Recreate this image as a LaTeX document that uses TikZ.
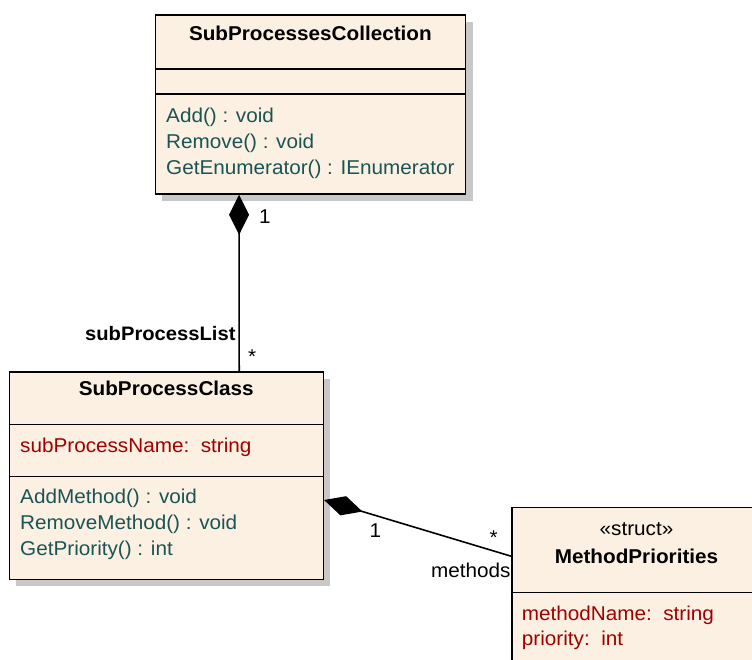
\documentclass[tikz,border=0pt]{standalone}
\usepackage{fontspec}
\setmainfont{Liberation Sans}[FakeStretch=1.035]
\usetikzlibrary{arrows.meta,shadows}
\definecolor{boxfill}{HTML}{FBF0E2}
\definecolor{shadowgray}{HTML}{C8C8C8}
\definecolor{opcolor}{HTML}{1A5454}
\definecolor{attrcolor}{HTML}{A00000}
\tikzset{
  classbox/.style={draw=black, line width=1.6pt, fill=boxfill, inner sep=0pt,
    drop shadow={shadow xshift=7pt, shadow yshift=-7pt, fill=shadowgray, opacity=1}},
  sepline/.style={draw=black, line width=1.4pt},
  txt/.style={anchor=base west, inner sep=0pt, font=\fontsize{20}{24}\selectfont},
  ctxt/.style={anchor=base, inner sep=0pt, font=\fontsize{20}{24}\selectfont},
  rtxt/.style={anchor=base east, inner sep=0pt, font=\fontsize{20}{24}\selectfont},
  op/.style={txt, text=opcolor},
  attr/.style={txt, text=attrcolor},
  title/.style={ctxt, font=\fontsize{20}{24}\selectfont\bfseries},
  composition/.style={line width=1.6pt, {Diamond[length=40pt,width=20pt]}-}
}
\begin{document}
\begin{tikzpicture}[x=1pt,y=-1pt]
\useasboundingbox (0,0) rectangle (752,659);
\clip (0,0) rectangle (752,659);

% SubProcessesCollection
\node[classbox, minimum width=310.2pt, minimum height=178.7pt] (c1) at (310.4,104.6) {};
\draw[sepline] ([yshift=-54.7pt]c1.north west) -- ([yshift=-54.7pt]c1.north east);
\draw[sepline] ([yshift=-79.7pt]c1.north west) -- ([yshift=-79.7pt]c1.north east);
\node[title] (c1t) at (310.4,40) {SubProcessesCollection};
\node[op] (c1m1) at (166,122.7) {Add() : void};
\node[op] (c1m2) at (166,148.3) {Remove() : void};
\node[op] (c1m3) at (166,174) {GetEnumerator() : IEnumerator};

% SubProcessClass
\node[classbox, minimum width=314pt, minimum height=207.6pt] (c2) at (166.3,475.5) {};
\draw[sepline] ([yshift=-53.6pt]c2.north west) -- ([yshift=-53.6pt]c2.north east);
\draw[sepline] ([yshift=-105.6pt]c2.north west) -- ([yshift=-105.6pt]c2.north east);
\node[title] (c2t) at (166.3,395) {SubProcessClass};
\node[attr] (c2a1) at (20,452.7) {subProcessName:\ \ string};
\node[op] (c2m1) at (20,503.3) {AddMethod() : void};
\node[op] (c2m2) at (20,529.3) {RemoveMethod() : void};
\node[op] (c2m3) at (20,555.3) {GetPriority() : int};

% MethodPriorities
\node[classbox, minimum width=249.6pt, minimum height=192.3pt] (c3) at (636.5,603.8) {};
\draw[sepline] ([yshift=-85.6pt]c3.north west) -- ([yshift=-85.6pt]c3.north east);
\node[ctxt] (c3s) at (636.5,535) {«struct»};
\node[title] (c3t) at (636.5,563.3) {MethodPriorities};
\node[attr] (c3a1) at (521.7,620) {methodName:\ \ string};
\node[attr] (c3a2) at (521.7,645.7) {priority:\ \ int};

% connectors
\draw[composition] ([xshift=84.6pt]c1.south west) -- ([xshift=230.7pt]c2.north west);
\draw[composition] ([yshift=-24.5pt]c2.east) -- ([yshift=-49.3pt]c3.north west);

% labels
\node[txt] (l1) at (259,223) {1};
\node[rtxt, font=\fontsize{19.5}{24}\selectfont\bfseries] (l2) at (235.7,340) {subProcessList};
\node[txt] (l3) at (248,363.5) {*};
\node[txt] (l4) at (369.5,537.3) {1};
\node[txt] (l5) at (489.5,544.5) {*};
\node[rtxt] (l6) at (510.7,577.7) {methods};
\end{tikzpicture}
\end{document}
